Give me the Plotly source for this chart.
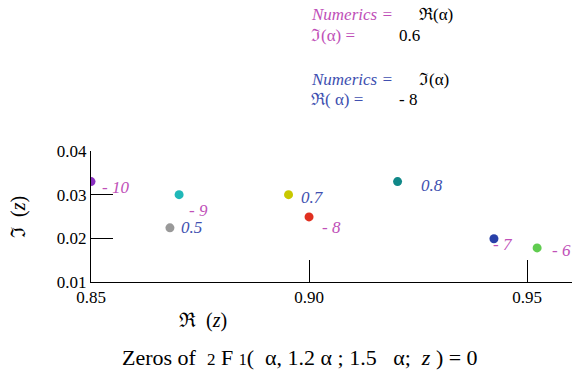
import plotly.graph_objects as go

# Zeros of 2F1(a, 1.2a; 1.5a; z) for several values of alpha
labels = ["- 10", "- 9", "0.5", "0.7", "- 8", "0.8", "- 7", "- 6"]
re_z = [0.8500, 0.8702, 0.8681, 0.8953, 0.9000, 0.9203, 0.9424, 0.9523]
im_z = [0.0330, 0.0300, 0.0224, 0.0300, 0.0249, 0.0330, 0.0199, 0.0178]
colors = ["#8a30c0", "#20b8b8", "#999999", "#c8c800",
          "#e03020", "#108888", "#2840a8", "#60cc50"]
# which family each label belongs to: "re" = real alpha, "im" = imaginary alpha
family = ["re", "re", "im", "im", "re", "im", "re", "re"]
# label offsets in pixels (dx, dy)
offsets = [(24, -6), (19, -16), (22, 0), (24, -3), (22, -11), (34, -4), (9, -6), (24, -3)]

x_ticks = [0.85, 0.90, 0.95]
y_ticks = [0.01, 0.02, 0.03, 0.04]

MAG = "#c050b8"
BLU = "#4050b0"
SERIF = "Liberation Serif"

fig = go.Figure()
fig.add_trace(go.Scatter(
    x=re_z, y=im_z, mode="markers",
    marker=dict(size=9, color=colors, line=dict(width=0)),
    showlegend=False, hoverinfo="skip",
))

for lab, x, y, fam, (dx, dy) in zip(labels, re_z, im_z, family, offsets):
    fig.add_annotation(
        x=x, y=y, xref="x", yref="y", text="<i>" + lab + "</i>",
        showarrow=False, xanchor="center", yanchor="middle",
        xshift=dx, yshift=dy,
        font=dict(family=SERIF, size=17, color=MAG if fam == "re" else BLU),
    )


def px2paper(px, py):
    return (px - 91) / (572 - 91), (282 - py) / (282 - 151)


# key text in the upper right
def key(text, px, py, color, italic=False):
    t = "<i>" + text + "</i>" if italic else text
    x, y = px2paper(px, py)
    fig.add_annotation(
        x=x, y=y, xref="paper", yref="paper", text=t, showarrow=False,
        xanchor="left", yanchor="middle",
        font=dict(family=SERIF, size=17, color=color),
    )


key("Numerics =", 309, 14, MAG, italic=True)
key("ℜ(α)", 417, 14, "black")
key("ℑ(α) =", 309, 35, MAG)
key("0.6", 397, 35, "black")
key("Numerics =", 309, 79, BLU, italic=True)
key("ℑ(α)", 417, 79, "black")
key("ℜ( α) =", 309, 100, BLU)
key("- 8", 397, 100, "black")

# axis titles and caption
x, y = px2paper(177, 320)
fig.add_annotation(
    x=x, y=y, xref="paper", yref="paper", xanchor="left", yanchor="middle",
    text="ℜ &nbsp;(<i>z</i>)", showarrow=False,
    font=dict(family=SERIF, size=20, color="black"),
)
x, y = px2paper(18, 217)
fig.add_annotation(
    x=x, y=y, xref="paper", yref="paper", xanchor="center", yanchor="middle",
    text="ℑ &nbsp;(<i>z</i>)", showarrow=False, textangle=-90,
    font=dict(family=SERIF, size=20, color="black"),
)
x, y = px2paper(300, 357)
fig.add_annotation(
    x=x, y=y, xref="paper", yref="paper", xanchor="center", yanchor="middle",
    text="Zeros of &nbsp;<span style='font-size:17px'>2</span> F <span style='font-size:16px'>1</span>"
         "( &nbsp;α, 1.2 α ; 1.5 &nbsp;&nbsp;α; &nbsp;<i>z</i> ) = 0",
    showarrow=False,
    font=dict(family=SERIF, size=22, color="black"),
)

fig.update_xaxes(
    range=[0.85, 0.9603], tickvals=x_ticks, ticktext=["0.85", "0.90", "0.95"],
    showgrid=False, zeroline=False, showline=True, linecolor="black", linewidth=1,
    ticks="inside", ticklen=22, tickcolor="black", tickwidth=1,
    tickfont=dict(family=SERIF, size=17, color="black"),
)
fig.update_yaxes(
    range=[0.01, 0.04], tickvals=y_ticks, ticktext=["0.01", "0.02", "0.03", "0.04"],
    showgrid=False, zeroline=False, showline=True, linecolor="black", linewidth=1,
    ticks="inside", ticklen=22, tickcolor="black", tickwidth=1,
    tickfont=dict(family=SERIF, size=17, color="black"),
)

fig.update_layout(
    width=577, height=379,
    margin=dict(l=91, r=5, t=151, b=97),
    paper_bgcolor="white", plot_bgcolor="white",
)

fig.write_html("out.html")
